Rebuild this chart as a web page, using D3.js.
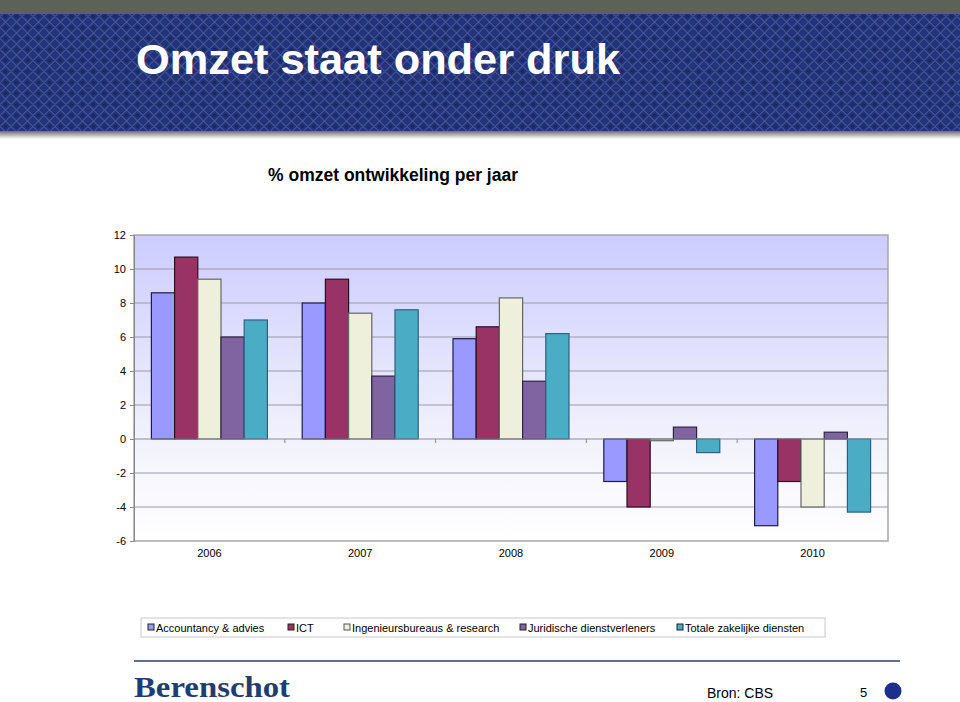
<!DOCTYPE html>
<html>
<head>
<meta charset="utf-8">
<title>Omzet staat onder druk</title>
<style>
  body { margin: 0; background: #fff; }
  svg { display: block; font-family: "Liberation Sans", Arial, sans-serif; }
  .tick text { font-size: 11px; fill: #000; }
</style>
</head>
<body>
<svg id="chart" width="960" height="702"></svg>
<script src="https://d3js.org/d3.v7.min.js"></script>
<script>
// data
var years = ["2006", "2007", "2008", "2009", "2010"];
var series = ["Accountancy & advies", "ICT", "Ingenieursbureaus & research",
              "Juridische dienstverleners", "Totale zakelijke diensten"];
var accountancy = [8.6, 8.0, 5.9, -2.5, -5.1];
var ict         = [10.7, 9.4, 6.6, -4.0, -2.5];
var ingenieurs  = [9.4, 7.4, 8.3, -0.1, -4.0];
var juridisch   = [6.0, 3.7, 3.4, 0.7, 0.4];
var totaal      = [7.0, 7.6, 6.2, -0.8, -4.3];
var yTicks = [-6, -4, -2, 0, 2, 4, 6, 8, 10, 12];

var values = [accountancy, ict, ingenieurs, juridisch, totaal];
var fills   = ["#9999ff", "#993366", "#eef0dc", "#8064a2", "#4bacc6"];
var strokes = ["#1c1c4a", "#2a0f1f", "#666666", "#2e2244", "#2f5f80"];

var svg = d3.select("#chart");
var defs = svg.append("defs");

// ---- header band ----
var pat = defs.append("pattern")
    .attr("id", "lattice")
    .attr("width", 11).attr("height", 11)
    .attr("patternUnits", "userSpaceOnUse");
pat.append("rect").attr("width", 11).attr("height", 11).attr("fill", "#23337a");
pat.append("path")
    .attr("d", "M0,5.5 L5.5,0 L11,5.5 L5.5,11 Z")
    .attr("fill", "none").attr("stroke", "#53639f").attr("stroke-width", 1);
pat.append("circle").attr("cx", 5.5).attr("cy", 5.5).attr("r", 2).attr("fill", "#1b2868");

var shade = defs.append("linearGradient").attr("id", "shade")
    .attr("x1", 0).attr("y1", 0).attr("x2", 0).attr("y2", 1);
shade.append("stop").attr("offset", 0).attr("stop-color", "#6d6f6a");
shade.append("stop").attr("offset", 1).attr("stop-color", "#ffffff");

svg.append("rect").attr("x", 0).attr("y", 0).attr("width", 960).attr("height", 14).attr("fill", "#5c6258");
svg.append("rect").attr("x", 0).attr("y", 14).attr("width", 960).attr("height", 117).attr("fill", "url(#lattice)");
svg.append("rect").attr("x", 0).attr("y", 131).attr("width", 960).attr("height", 8).attr("fill", "url(#shade)");

svg.append("text")
    .attr("x", 136).attr("y", 74)
    .attr("textLength", 484).attr("lengthAdjust", "spacingAndGlyphs")
    .style("font-size", "43px").style("font-weight", "bold").style("fill", "#fff")
    .text("Omzet staat onder druk");

// ---- chart ----
var plotLeft = 134, plotRight = 888, plotTop = 235, plotBottom = 541;

svg.append("text")
    .attr("x", 393).attr("y", 181)
    .attr("text-anchor", "middle")
    .style("font-size", "17.5px").style("font-weight", "bold")
    .text("% omzet ontwikkeling per jaar");

var x0 = d3.scaleBand().domain(years).range([plotLeft, plotRight]).padding(0);
var x1 = d3.scaleBand().domain(d3.range(series.length))
    .range([0, x0.bandwidth()]).paddingInner(0).paddingOuter(0.75);
var y = d3.scaleLinear().domain([-6, 12]).range([plotBottom, plotTop]);

var bg = defs.append("linearGradient").attr("id", "plotbg")
    .attr("x1", 0).attr("y1", 0).attr("x2", 0).attr("y2", 1);
bg.append("stop").attr("offset", 0).attr("stop-color", "#ccccff");
bg.append("stop").attr("offset", 0.67).attr("stop-color", "#f2f2fd");
bg.append("stop").attr("offset", 1).attr("stop-color", "#ffffff");

svg.append("rect")
    .attr("x", plotLeft).attr("y", plotTop)
    .attr("width", plotRight - plotLeft).attr("height", plotBottom - plotTop)
    .attr("fill", "url(#plotbg)")
    .attr("stroke", "#a6a6a6").attr("stroke-width", 1.5);

// gridlines
svg.append("g").selectAll("line")
    .data(yTicks.filter(function(d) { return d !== 0 && d !== -6 && d !== 12; }))
    .join("line")
    .attr("x1", plotLeft).attr("x2", plotRight)
    .attr("y1", function(d) { return y(d); }).attr("y2", function(d) { return y(d); })
    .attr("stroke", "#9a9aa6").attr("stroke-width", 1);

// y axis (plain hyphen for negatives, like the original)
var yAxis = svg.append("g")
    .attr("transform", "translate(" + plotLeft + ",0)")
    .call(d3.axisLeft(y).tickValues(yTicks).tickSize(4).tickPadding(4)
        .tickFormat(function(d) { return String(d); }));
yAxis.select(".domain").attr("stroke", "#888");
yAxis.selectAll(".tick line").attr("stroke", "#888");

// bars
var groups = svg.append("g").selectAll("g")
    .data(years)
    .join("g")
    .attr("transform", function(d) { return "translate(" + x0(d) + ",0)"; });

groups.selectAll("rect")
    .data(function(d, i) {
        return values.map(function(v, s) { return { s: s, v: v[i] }; });
    })
    .join("rect")
    .attr("x", function(d) { return x1(d.s); })
    .attr("width", x1.bandwidth())
    .attr("y", function(d) { return y(Math.max(0, d.v)); })
    .attr("height", function(d) { return Math.abs(y(d.v) - y(0)); })
    .attr("fill", function(d) { return fills[d.s]; })
    .attr("stroke", function(d) { return strokes[d.s]; })
    .attr("stroke-width", 1.2);

// zero axis with category ticks
svg.append("line")
    .attr("x1", plotLeft).attr("x2", plotRight)
    .attr("y1", y(0)).attr("y2", y(0))
    .attr("stroke", "#8a8a96").attr("stroke-width", 1);
svg.append("g").selectAll("line")
    .data(years.slice(1))
    .join("line")
    .attr("x1", function(d) { return x0(d); }).attr("x2", function(d) { return x0(d); })
    .attr("y1", y(0)).attr("y2", y(0) + 4)
    .attr("stroke", "#8a8a96");

// category labels
svg.append("g").selectAll("text")
    .data(years)
    .join("text")
    .attr("x", function(d) { return x0(d) + x0.bandwidth() / 2; })
    .attr("y", 557)
    .attr("text-anchor", "middle")
    .style("font-size", "11px")
    .text(function(d) { return d; });

// ---- legend ----
var legendX = [148, 288, 344, 520, 677];
svg.append("rect")
    .attr("x", 141).attr("y", 618).attr("width", 684).attr("height", 19)
    .attr("fill", "#fff").attr("stroke", "#c8c8c8");
var leg = svg.append("g").selectAll("g")
    .data(series)
    .join("g")
    .attr("transform", function(d, i) { return "translate(" + legendX[i] + ",624)"; });
leg.append("rect")
    .attr("width", 6).attr("height", 6)
    .attr("fill", function(d, i) { return fills[i]; })
    .attr("stroke", function(d, i) { return i === 2 ? "#555" : "#222"; })
    .attr("stroke-width", 1);
leg.append("text")
    .attr("x", 8).attr("y", 7.5)
    .style("font-size", "11px")
    .text(function(d) { return d; });

// ---- footer ----
svg.append("line")
    .attr("x1", 134).attr("x2", 900).attr("y1", 661).attr("y2", 661)
    .attr("stroke", "#2b3f6d").attr("stroke-width", 1.5);
svg.append("text")
    .attr("x", 134).attr("y", 697)
    .attr("textLength", 156).attr("lengthAdjust", "spacingAndGlyphs")
    .style("font-family", "'Liberation Serif', 'DejaVu Serif', serif")
    .style("font-size", "30px").style("font-weight", "bold").style("fill", "#1f3d70")
    .text("Berenschot");
svg.append("text")
    .attr("x", 707).attr("y", 698)
    .style("font-size", "14px")
    .text("Bron: CBS");
svg.append("text")
    .attr("x", 860).attr("y", 697)
    .style("font-size", "13px")
    .text("5");
svg.append("circle")
    .attr("cx", 893).attr("cy", 691).attr("r", 8.5)
    .attr("fill", "#1c2f8c");
</script>
</body>
</html>
